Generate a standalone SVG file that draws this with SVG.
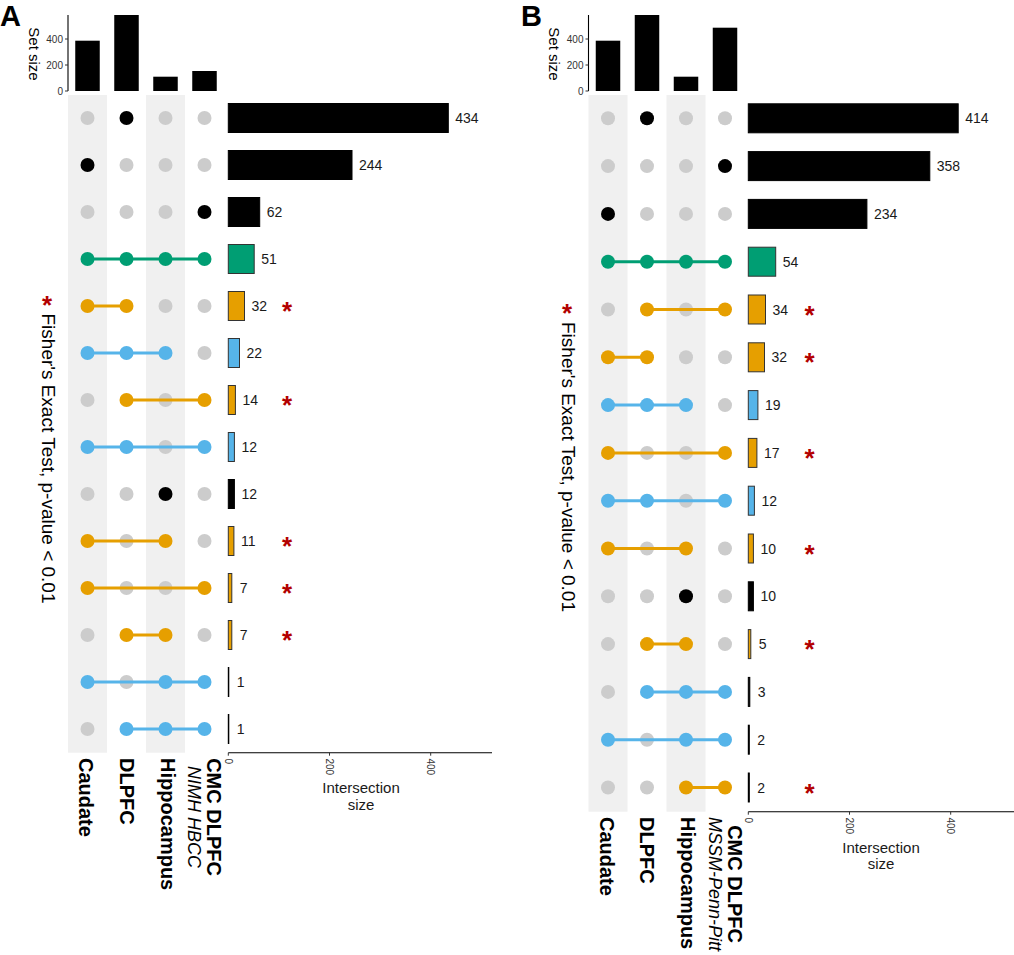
<svg xmlns="http://www.w3.org/2000/svg" width="1014" height="955" viewBox="0 0 1014 955">
<style>
text{font-family:"Liberation Sans",Arial,Helvetica,sans-serif;fill:#000}
.band{fill:#F0F0F0}
.gd{fill:#CCCCCC}
.bk{fill:#000}
.gr{fill:#009E73}
.or{fill:#E69F00}
.bl{fill:#56B4E9}
.lg{stroke:#009E73;stroke-width:3}
.lo{stroke:#E69F00;stroke-width:3}
.lb{stroke:#56B4E9;stroke-width:3}
.bar{stroke:#333;stroke-width:1}
.bbar{fill:#000;stroke:#000;stroke-width:1}
.num{font-size:14px;fill:#1a1a1a}
.star{font-size:26px;font-weight:bold;fill:#B30000;text-anchor:middle}
.lab{font-size:20px;font-weight:bold}
.sub{font-size:18px;font-style:italic}
.tick{font-size:10px;fill:#333}
.ax{stroke:#000;stroke-width:1.1;fill:none}
.tk{stroke:#333;stroke-width:1}
.title{font-size:15px;text-anchor:middle;fill:#1a1a1a}
.fisher{font-size:19px}
.panel{font-size:29px;font-weight:bold}
</style>

<!-- ================= PANEL A ================= -->
<g id="panelA">
<text class="panel" x="0" y="25.5">A</text>
<g id="A-setsize-axis">
<line class="ax" x1="68" y1="15" x2="68" y2="91"/>
<line class="tk" x1="65" y1="91" x2="68" y2="91"/>
<line class="tk" x1="65" y1="65" x2="68" y2="65"/>
<line class="tk" x1="65" y1="39" x2="68" y2="39"/>
<text class="tick" x="63" y="94.5" text-anchor="end">0</text>
<text class="tick" x="63" y="68.5" text-anchor="end">200</text>
<text class="tick" x="63" y="42.5" text-anchor="end">400</text>
<text transform="translate(28.5,54) rotate(90)" font-size="15" text-anchor="middle" fill="#1a1a1a">Set size</text>
</g>
<g id="A-set-caudate">
<rect class="band" x="68" y="95" width="39" height="657.7"/>
<rect class="bk" x="75.25" y="40.7" width="24.5" height="50.3"/>
<text class="lab" transform="translate(78.5,758) rotate(90)">Caudate</text>
</g>
<g id="A-set-dlpfc">
<rect class="bk" x="114.25" y="15" width="24.5" height="76"/>
<text class="lab" transform="translate(119.5,758) rotate(90)">DLPFC</text>
</g>
<g id="A-set-hippocampus">
<rect class="band" x="146" y="95" width="39" height="657.7"/>
<rect class="bk" x="153.25" y="76.7" width="24.5" height="14.3"/>
<text class="lab" transform="translate(160.5,758) rotate(90)">Hippocampus</text>
</g>
<g id="A-set-cmc">
<rect class="bk" x="192.25" y="71" width="24.5" height="20"/>
<text class="lab" transform="translate(207,817) rotate(90)" text-anchor="middle">CMC DLPFC</text>
<text class="sub" transform="translate(187.5,817) rotate(90)" text-anchor="middle">NIMH HBCC</text>
</g>
<g id="A-empty-dots" class="gd">
<circle cx="87.5" cy="118" r="7"/><circle cx="165.5" cy="118" r="7"/><circle cx="204.5" cy="118" r="7"/>
<circle cx="126.5" cy="165" r="7"/><circle cx="165.5" cy="165" r="7"/><circle cx="204.5" cy="165" r="7"/>
<circle cx="87.5" cy="212" r="7"/><circle cx="126.5" cy="212" r="7"/><circle cx="165.5" cy="212" r="7"/>
<circle cx="165.5" cy="306" r="7"/><circle cx="204.5" cy="306" r="7"/>
<circle cx="204.5" cy="353" r="7"/>
<circle cx="87.5" cy="400" r="7"/><circle cx="165.5" cy="400" r="7"/>
<circle cx="165.5" cy="447" r="7"/>
<circle cx="87.5" cy="494" r="7"/><circle cx="126.5" cy="494" r="7"/><circle cx="204.5" cy="494" r="7"/>
<circle cx="126.5" cy="541" r="7"/><circle cx="204.5" cy="541" r="7"/>
<circle cx="126.5" cy="588" r="7"/><circle cx="165.5" cy="588" r="7"/>
<circle cx="87.5" cy="635" r="7"/><circle cx="204.5" cy="635" r="7"/>
<circle cx="126.5" cy="682" r="7"/>
<circle cx="87.5" cy="729" r="7"/>
</g>
<g id="A-connectors">
<line class="lg" x1="87.5" y1="259" x2="204.5" y2="259"/>
<line class="lo" x1="87.5" y1="306" x2="126.5" y2="306"/>
<line class="lb" x1="87.5" y1="353" x2="165.5" y2="353"/>
<line class="lo" x1="126.5" y1="400" x2="204.5" y2="400"/>
<line class="lb" x1="87.5" y1="447" x2="204.5" y2="447"/>
<line class="lo" x1="87.5" y1="541" x2="165.5" y2="541"/>
<line class="lo" x1="87.5" y1="588" x2="204.5" y2="588"/>
<line class="lo" x1="126.5" y1="635" x2="165.5" y2="635"/>
<line class="lb" x1="87.5" y1="682" x2="204.5" y2="682"/>
<line class="lb" x1="126.5" y1="729" x2="204.5" y2="729"/>
</g>
<g id="A-row1"><circle class="bk" cx="126.5" cy="118" r="7"/><rect class="bbar" x="228.3" y="103.5" width="220" height="29"/><text class="num" x="455.3" y="123">434</text></g>
<g id="A-row2"><circle class="bk" cx="87.5" cy="165" r="7"/><rect class="bbar" x="228.3" y="150.5" width="123.7" height="29"/><text class="num" x="359" y="170">244</text></g>
<g id="A-row3"><circle class="bk" cx="204.5" cy="212" r="7"/><rect class="bbar" x="228.3" y="197.5" width="31.4" height="29"/><text class="num" x="266.7" y="217">62</text></g>
<g id="A-row4" class="gr"><circle cx="87.5" cy="259" r="7"/><circle cx="126.5" cy="259" r="7"/><circle cx="165.5" cy="259" r="7"/><circle cx="204.5" cy="259" r="7"/><rect class="bar" x="228.3" y="244.5" width="25.9" height="29"/><text class="num" x="261.2" y="264">51</text></g>
<g id="A-row5" class="or"><circle cx="87.5" cy="306" r="7"/><circle cx="126.5" cy="306" r="7"/><rect class="bar" x="228.3" y="291.5" width="16.2" height="29"/><text class="num" x="251.5" y="311">32</text><text class="star" x="287" y="320">*</text></g>
<g id="A-row6" class="bl"><circle cx="87.5" cy="353" r="7"/><circle cx="126.5" cy="353" r="7"/><circle cx="165.5" cy="353" r="7"/><rect class="bar" x="228.3" y="338.5" width="11.2" height="29"/><text class="num" x="246.5" y="358">22</text></g>
<g id="A-row7" class="or"><circle cx="126.5" cy="400" r="7"/><circle cx="204.5" cy="400" r="7"/><rect class="bar" x="228.3" y="385.5" width="7.1" height="29"/><text class="num" x="242.4" y="405">14</text><text class="star" x="287" y="414">*</text></g>
<g id="A-row8" class="bl"><circle cx="87.5" cy="447" r="7"/><circle cx="126.5" cy="447" r="7"/><circle cx="204.5" cy="447" r="7"/><rect class="bar" x="228.3" y="432.5" width="6.1" height="29"/><text class="num" x="241.4" y="452">12</text></g>
<g id="A-row9"><circle class="bk" cx="165.5" cy="494" r="7"/><rect class="bbar" x="228.3" y="479.5" width="6.1" height="29"/><text class="num" x="241.4" y="499">12</text></g>
<g id="A-row10" class="or"><circle cx="87.5" cy="541" r="7"/><circle cx="165.5" cy="541" r="7"/><rect class="bar" x="228.3" y="526.5" width="5.6" height="29"/><text class="num" x="240.9" y="546">11</text><text class="star" x="287" y="555">*</text></g>
<g id="A-row11" class="or"><circle cx="87.5" cy="588" r="7"/><circle cx="204.5" cy="588" r="7"/><rect class="bar" x="228.3" y="573.5" width="3.5" height="29"/><text class="num" x="239.8" y="593">7</text><text class="star" x="287" y="602">*</text></g>
<g id="A-row12" class="or"><circle cx="126.5" cy="635" r="7"/><circle cx="165.5" cy="635" r="7"/><rect class="bar" x="228.3" y="620.5" width="3.5" height="29"/><text class="num" x="239.8" y="640">7</text><text class="star" x="287" y="649">*</text></g>
<g id="A-row13" class="bl"><circle cx="87.5" cy="682" r="7"/><circle cx="165.5" cy="682" r="7"/><circle cx="204.5" cy="682" r="7"/><rect class="bbar" x="228.3" y="667.5" width="0.5" height="29"/><text class="num" x="236.8" y="687">1</text></g>
<g id="A-row14" class="bl"><circle cx="126.5" cy="729" r="7"/><circle cx="165.5" cy="729" r="7"/><circle cx="204.5" cy="729" r="7"/><rect class="bbar" x="228.3" y="714.5" width="0.5" height="29"/><text class="num" x="236.8" y="734">1</text></g>
<g id="A-int-axis">
<line class="ax" x1="228.3" y1="752.7" x2="492" y2="752.7"/>
<line class="tk" x1="228.3" y1="752.7" x2="228.3" y2="755.7"/>
<line class="tk" x1="329.5" y1="752.7" x2="329.5" y2="755.7"/>
<line class="tk" x1="430.7" y1="752.7" x2="430.7" y2="755.7"/>
<text class="tick" transform="translate(224.8,758.5) rotate(90)">0</text>
<text class="tick" transform="translate(326,758.5) rotate(90)">200</text>
<text class="tick" transform="translate(427.2,758.5) rotate(90)">400</text>
<text class="title" x="361" y="793">Intersection</text>
<text class="title" x="361" y="810">size</text>
</g>
<g id="A-legend">
<text class="star" x="47" y="314">*</text>
<text class="fisher" transform="translate(42,313.5) rotate(90)">Fisher's Exact Test, p-value &lt; 0.01</text>
</g>
</g>

<!-- ================= PANEL B ================= -->
<g id="panelB">
<text class="panel" x="521" y="25.5">B</text>
<g id="B-setsize-axis">
<line class="ax" x1="588.5" y1="15" x2="588.5" y2="91"/>
<line class="tk" x1="585.5" y1="91" x2="588.5" y2="91"/>
<line class="tk" x1="585.5" y1="65" x2="588.5" y2="65"/>
<line class="tk" x1="585.5" y1="39" x2="588.5" y2="39"/>
<text class="tick" x="583.5" y="94.5" text-anchor="end">0</text>
<text class="tick" x="583.5" y="68.5" text-anchor="end">200</text>
<text class="tick" x="583.5" y="42.5" text-anchor="end">400</text>
<text transform="translate(549,54) rotate(90)" font-size="15" text-anchor="middle" fill="#1a1a1a">Set size</text>
</g>
<g id="B-set-caudate">
<rect class="band" x="588.5" y="95" width="39" height="716.7"/>
<rect class="bk" x="595.75" y="40.7" width="24.5" height="50.3"/>
<text class="lab" transform="translate(599.5,817) rotate(90)">Caudate</text>
</g>
<g id="B-set-dlpfc">
<rect class="bk" x="634.75" y="15" width="24.5" height="76"/>
<text class="lab" transform="translate(639.5,817) rotate(90)">DLPFC</text>
</g>
<g id="B-set-hippocampus">
<rect class="band" x="666.5" y="95" width="39" height="716.7"/>
<rect class="bk" x="673.75" y="76.7" width="24.5" height="14.3"/>
<text class="lab" transform="translate(681,817) rotate(90)">Hippocampus</text>
</g>
<g id="B-set-cmc">
<rect class="bk" x="712.75" y="27.7" width="24.5" height="63.3"/>
<text class="lab" transform="translate(727.5,884) rotate(90)" text-anchor="middle">CMC DLPFC</text>
<text class="sub" transform="translate(708.5,884) rotate(90)" text-anchor="middle">MSSM-Penn-Pitt</text>
</g>
<g id="B-empty-dots" class="gd">
<circle cx="608" cy="118.3" r="7"/><circle cx="686" cy="118.3" r="7"/><circle cx="725" cy="118.3" r="7"/>
<circle cx="608" cy="166.1" r="7"/><circle cx="647" cy="166.1" r="7"/><circle cx="686" cy="166.1" r="7"/>
<circle cx="647" cy="213.9" r="7"/><circle cx="686" cy="213.9" r="7"/><circle cx="725" cy="213.9" r="7"/>
<circle cx="608" cy="309.5" r="7"/><circle cx="686" cy="309.5" r="7"/>
<circle cx="686" cy="357.3" r="7"/><circle cx="725" cy="357.3" r="7"/>
<circle cx="725" cy="405.1" r="7"/>
<circle cx="647" cy="452.9" r="7"/><circle cx="686" cy="452.9" r="7"/>
<circle cx="686" cy="500.7" r="7"/>
<circle cx="647" cy="548.5" r="7"/><circle cx="725" cy="548.5" r="7"/>
<circle cx="608" cy="596.3" r="7"/><circle cx="647" cy="596.3" r="7"/><circle cx="725" cy="596.3" r="7"/>
<circle cx="608" cy="644.1" r="7"/><circle cx="725" cy="644.1" r="7"/>
<circle cx="608" cy="691.9" r="7"/>
<circle cx="647" cy="739.7" r="7"/>
<circle cx="608" cy="787.5" r="7"/><circle cx="647" cy="787.5" r="7"/>
</g>
<g id="B-connectors">
<line class="lg" x1="608" y1="261.7" x2="725" y2="261.7"/>
<line class="lo" x1="647" y1="309.5" x2="725" y2="309.5"/>
<line class="lo" x1="608" y1="357.3" x2="647" y2="357.3"/>
<line class="lb" x1="608" y1="405.1" x2="686" y2="405.1"/>
<line class="lo" x1="608" y1="452.9" x2="725" y2="452.9"/>
<line class="lb" x1="608" y1="500.7" x2="725" y2="500.7"/>
<line class="lo" x1="608" y1="548.5" x2="686" y2="548.5"/>
<line class="lo" x1="647" y1="644.1" x2="686" y2="644.1"/>
<line class="lb" x1="647" y1="691.9" x2="725" y2="691.9"/>
<line class="lb" x1="608" y1="739.7" x2="725" y2="739.7"/>
<line class="lo" x1="686" y1="787.5" x2="725" y2="787.5"/>
</g>
<g id="B-row1"><circle class="bk" cx="647" cy="118.3" r="7"/><rect class="bbar" x="748.3" y="103.8" width="209.9" height="29"/><text class="num" x="965.2" y="123.3">414</text></g>
<g id="B-row2"><circle class="bk" cx="725" cy="166.1" r="7"/><rect class="bbar" x="748.3" y="151.6" width="181.5" height="29"/><text class="num" x="936.8" y="171.1">358</text></g>
<g id="B-row3"><circle class="bk" cx="608" cy="213.9" r="7"/><rect class="bbar" x="748.3" y="199.4" width="118.6" height="29"/><text class="num" x="873.9" y="218.9">234</text></g>
<g id="B-row4" class="gr"><circle cx="608" cy="261.7" r="7"/><circle cx="647" cy="261.7" r="7"/><circle cx="686" cy="261.7" r="7"/><circle cx="725" cy="261.7" r="7"/><rect class="bar" x="748.3" y="247.2" width="27.4" height="29"/><text class="num" x="782.7" y="266.7">54</text></g>
<g id="B-row5" class="or"><circle cx="647" cy="309.5" r="7"/><circle cx="725" cy="309.5" r="7"/><rect class="bar" x="748.3" y="295" width="17.2" height="29"/><text class="num" x="772.5" y="314.5">34</text><text class="star" x="809.5" y="323.5">*</text></g>
<g id="B-row6" class="or"><circle cx="608" cy="357.3" r="7"/><circle cx="647" cy="357.3" r="7"/><rect class="bar" x="748.3" y="342.8" width="16.2" height="29"/><text class="num" x="771.5" y="362.3">32</text><text class="star" x="809.5" y="371.3">*</text></g>
<g id="B-row7" class="bl"><circle cx="608" cy="405.1" r="7"/><circle cx="647" cy="405.1" r="7"/><circle cx="686" cy="405.1" r="7"/><rect class="bar" x="748.3" y="390.6" width="9.6" height="29"/><text class="num" x="764.9" y="410.1">19</text></g>
<g id="B-row8" class="or"><circle cx="608" cy="452.9" r="7"/><circle cx="725" cy="452.9" r="7"/><rect class="bar" x="748.3" y="438.4" width="8.6" height="29"/><text class="num" x="763.9" y="457.9">17</text><text class="star" x="809.5" y="466.9">*</text></g>
<g id="B-row9" class="bl"><circle cx="608" cy="500.7" r="7"/><circle cx="647" cy="500.7" r="7"/><circle cx="725" cy="500.7" r="7"/><rect class="bar" x="748.3" y="486.2" width="6.1" height="29"/><text class="num" x="761.4" y="505.7">12</text></g>
<g id="B-row10" class="or"><circle cx="608" cy="548.5" r="7"/><circle cx="686" cy="548.5" r="7"/><rect class="bar" x="748.3" y="534" width="5.1" height="29"/><text class="num" x="760.4" y="553.5">10</text><text class="star" x="809.5" y="562.5">*</text></g>
<g id="B-row11"><circle class="bk" cx="686" cy="596.3" r="7"/><rect class="bbar" x="748.3" y="581.8" width="5.1" height="29"/><text class="num" x="760.4" y="601.3">10</text></g>
<g id="B-row12" class="or"><circle cx="647" cy="644.1" r="7"/><circle cx="686" cy="644.1" r="7"/><rect class="bar" x="748.3" y="629.6" width="2.5" height="29"/><text class="num" x="758.8" y="649.1">5</text><text class="star" x="809.5" y="658.1">*</text></g>
<g id="B-row13" class="bl"><circle cx="647" cy="691.9" r="7"/><circle cx="686" cy="691.9" r="7"/><circle cx="725" cy="691.9" r="7"/><rect class="bbar" x="748.3" y="677.4" width="1.5" height="29"/><text class="num" x="757.8" y="696.9">3</text></g>
<g id="B-row14" class="bl"><circle cx="608" cy="739.7" r="7"/><circle cx="686" cy="739.7" r="7"/><circle cx="725" cy="739.7" r="7"/><rect class="bbar" x="748.3" y="725.2" width="1" height="29"/><text class="num" x="757.3" y="744.7">2</text></g>
<g id="B-row15" class="or"><circle cx="686" cy="787.5" r="7"/><circle cx="725" cy="787.5" r="7"/><rect class="bbar" x="748.3" y="773" width="1" height="29"/><text class="num" x="757.3" y="792.5">2</text><text class="star" x="809.5" y="801.5">*</text></g>
<g id="B-int-axis">
<line class="ax" x1="748.3" y1="811.7" x2="1014" y2="811.7"/>
<line class="tk" x1="748.3" y1="811.7" x2="748.3" y2="814.7"/>
<line class="tk" x1="849.5" y1="811.7" x2="849.5" y2="814.7"/>
<line class="tk" x1="950.7" y1="811.7" x2="950.7" y2="814.7"/>
<text class="tick" transform="translate(744.8,817.5) rotate(90)">0</text>
<text class="tick" transform="translate(846,817.5) rotate(90)">200</text>
<text class="tick" transform="translate(947.2,817.5) rotate(90)">400</text>
<text class="title" x="881" y="853">Intersection</text>
<text class="title" x="881" y="869">size</text>
</g>
<g id="B-legend">
<text class="star" x="567" y="322">*</text>
<text class="fisher" transform="translate(562,322) rotate(90)">Fisher's Exact Test, p-value &lt; 0.01</text>
</g>
</g>
</svg>
